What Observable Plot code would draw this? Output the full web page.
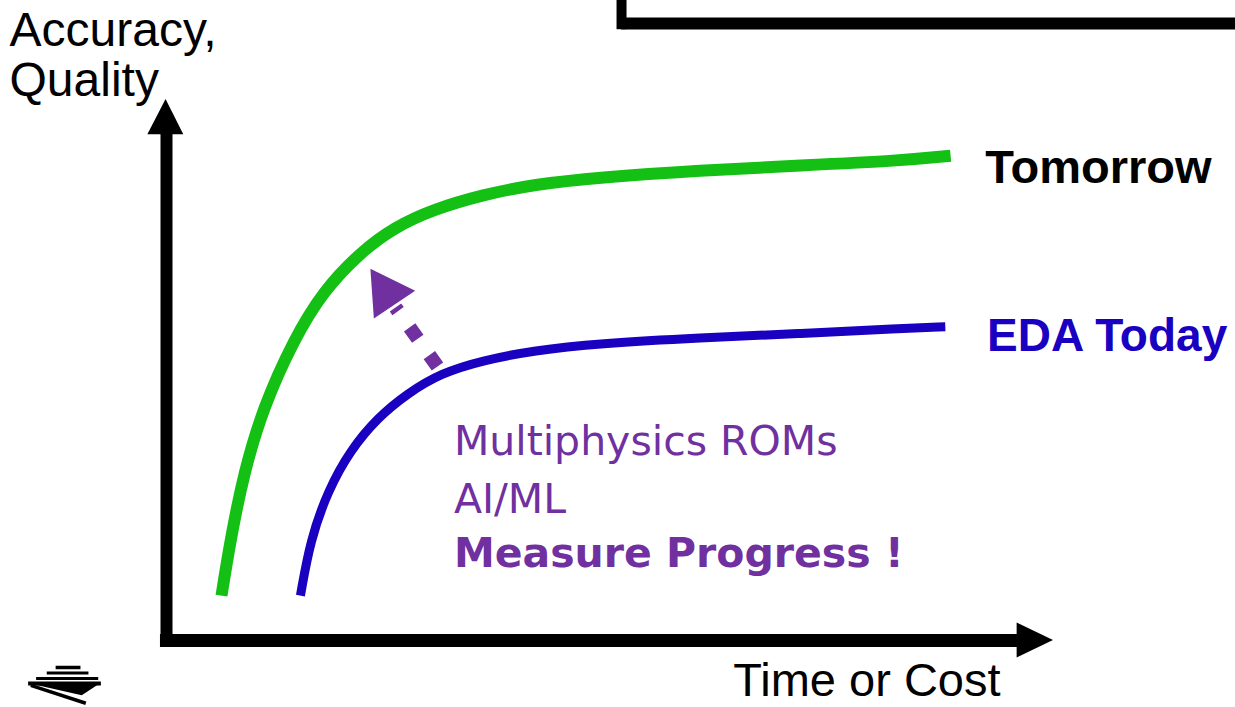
<!DOCTYPE html>
<html><head><meta charset="utf-8">
<script src="https://cdn.jsdelivr.net/npm/d3@7"></script>
<script src="https://cdn.jsdelivr.net/npm/@observablehq/plot@0.6"></script>
<style>body{margin:0;background:#fff;overflow:hidden}</style>
</head><body><div id="chart"></div>
<script>
// Curve "Tomorrow" (green): x = time or cost, y = accuracy (0-100 axis units)
const tomorrowX = [6.2, 7.2, 8.7, 10.9, 14.3, 17.7, 21.9, 25.6, 30.1, 35.7, 41.4, 48.6, 60.2, 71.5, 82.8, 88.4];
const tomorrowY = [8.3, 18.5, 30.9, 43.1, 55.5, 64.7, 71.8, 76.3, 79.7, 82.4, 84.3, 85.6, 86.9, 87.8, 88.7, 89.6];
// Curve "EDA Today" (blue)
const todayX = [15.1, 16.2, 18.2, 20.7, 23.8, 27.2, 30.9, 35.7, 41.4, 48.6, 60.2, 71.5, 82.8, 87.8];
const todayY = [8.3, 18.5, 27.7, 35.1, 41.2, 45.7, 49.4, 51.8, 53.6, 54.9, 56.0, 56.7, 57.7, 58.0];
// Labels
const seriesLabels = ["Tomorrow", "EDA Today"];
const axisLabels = ["Accuracy,\nQuality", "Time or Cost"];
const noteLines = ["Multiphysics ROMs\nAI/ML", "Measure Progress !"];

const tomorrow = tomorrowX.map((x, i) => ({x, y: tomorrowY[i]}));
const today = todayX.map((x, i) => ({x, y: todayY[i]}));

const GREEN = "#14C014", BLUE = "#1A00C0", PURPLE = "#7030A0";
const SANS = "'Liberation Sans', Arial, sans-serif";
const TAHOMA = "'DejaVu Sans', Verdana, sans-serif";

const chart = Plot.plot({
  width: 1235, height: 707,
  marginLeft: 166, marginRight: 182, marginTop: 99, marginBottom: 67,
  x: {domain: [0, 100], axis: null},
  y: {domain: [0, 100], axis: null},
  style: {background: "#fff", overflow: "visible"},
  marks: [
    // partial box at top right
    Plot.ruleX([{x: 51.3}], {x: "x", y1: 112.9, y2: 120, stroke: "#000", strokeWidth: 10}),
    Plot.ruleY([{y: 114.05}], {y: "y", x1: 51.3, x2: 125, stroke: "#000", strokeWidth: 12}),
    // axes with arrowheads
    Plot.ruleX([{x: 0}], {x: "x", y1: -1.1, y2: 94.5, stroke: "#000", strokeWidth: 12}),
    Plot.ruleY([{y: 0}], {y: "y", x1: -0.68, x2: 96.5, stroke: "#000", strokeWidth: 13}),
    Plot.areaX([{y: 93.5, x1: -2.1, x2: 1.95}, {y: 100, x1: -0.05, x2: -0.05}], {y: "y", x1: "x1", x2: "x2", fill: "#000"}),
    Plot.areaY([{x: 95.9, y1: -3.23, y2: 3.23}, {x: 100, y1: 0, y2: 0}], {x: "x", y1: "y1", y2: "y2", fill: "#000"}),
    // curves
    Plot.line(tomorrow, {x: "x", y: "y", curve: "basis", stroke: GREEN, strokeWidth: 12, strokeLinecap: "butt"}),
    Plot.line(today, {x: "x", y: "y", curve: "basis", stroke: BLUE, strokeWidth: 9, strokeLinecap: "butt"}),
    // dashed progress arrow
    Plot.link([{x1: 30.55, y1: 50.65, x2: 25.82, y2: 61.55}], {x1: "x1", y1: "y1", x2: "x2", y2: "y2", stroke: PURPLE, strokeWidth: 14, strokeDasharray: "14,20", strokeLinecap: "butt"}),
    Plot.dot([{x: 24.8, y: 64.3}], {x: "x", y: "y", symbol: "triangle", r: 18.5, rotate: -34, fill: PURPLE, stroke: "none"}),
    // series labels
    Plot.text([seriesLabels[0]], {x: () => 92.3, y: () => 84.5, text: d => d, textAnchor: "start", lineAnchor: "bottom", fontSize: 47, fontWeight: "bold", fontFamily: SANS, fill: "#000"}),
    Plot.text([seriesLabels[1]], {x: () => 92.5, y: () => 53.6, text: d => d, textAnchor: "start", lineAnchor: "bottom", fontSize: 46, fontWeight: "bold", fontFamily: SANS, fill: BLUE}),
    // axis labels
    Plot.text([axisLabels[0]], {x: () => -17.7, y: () => 100.6, text: d => d, textAnchor: "start", lineAnchor: "bottom", lineHeight: 1.05, fontSize: 48, fontFamily: SANS, fill: "#000"}),
    Plot.text([axisLabels[1]], {x: () => 63.9, y: () => -10.35, text: d => d, textAnchor: "start", lineAnchor: "bottom", fontSize: 47, fontFamily: SANS, fill: "#000"}),
    // notes
    Plot.text([noteLines[0]], {x: () => 32.4, y: () => 23.6, text: d => d, textAnchor: "start", lineAnchor: "bottom", lineHeight: 1.42, fontSize: 41, fontFamily: TAHOMA, fill: PURPLE}),
    Plot.text([noteLines[1]], {x: () => 32.4, y: () => 13.5, text: d => d, textAnchor: "start", lineAnchor: "bottom", fontSize: 41, fontWeight: "bold", fontFamily: TAHOMA, fill: PURPLE}),
    // small logo (bottom left)
    Plot.link([
      {x1: -12.5, x2: -9.7, y: -4.99, w: 3.5},
      {x1: -13.5, x2: -8.8, y: -6.01, w: 3},
      {x1: -14.7, x2: -7.7, y: -7.02, w: 3},
      {x1: -15.6, x2: -7.4, y: -7.95, w: 4}
    ], {x1: "x1", x2: "x2", y1: "y", y2: "y", stroke: "#000", strokeWidth: "w"}),
    Plot.areaY([{x: -15.6, y1: -7.95, y2: -7.95}, {x: -9.5, y1: -10.2, y2: -7.95}, {x: -7.4, y1: -7.95, y2: -7.95}], {x: "x", y1: "y1", y2: "y2", fill: "#000"}),
    Plot.link([{x1: -15.3, y1: -8.3, x2: -9.1, y2: -11.6}], {x1: "x1", y1: "y1", x2: "x2", y2: "y2", stroke: "#000", strokeWidth: 3.5})
  ]
});
document.getElementById("chart").appendChild(chart);
</script>
</body></html>
